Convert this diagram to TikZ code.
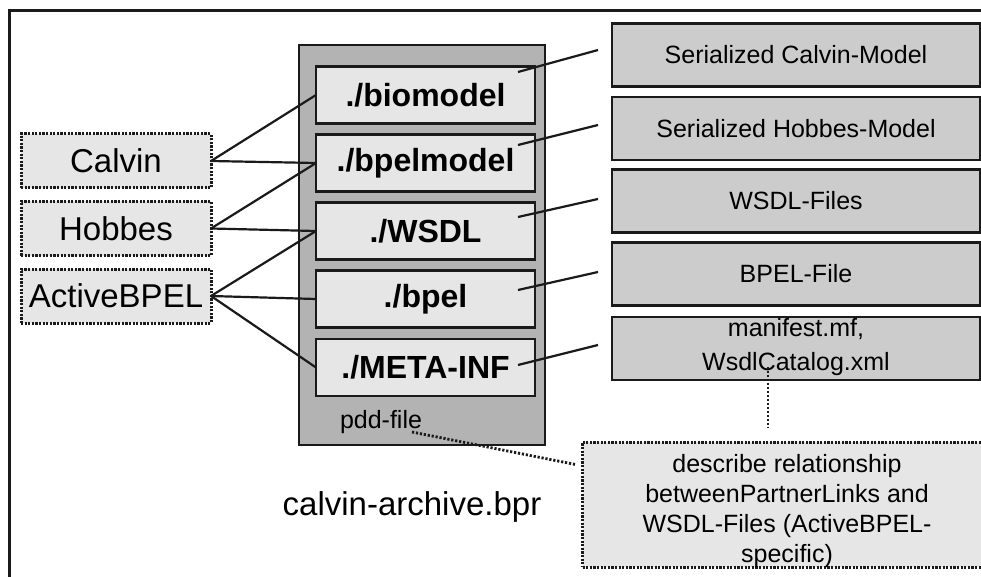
\documentclass[tikz,border=0pt]{standalone}
\usepackage{fontspec}
\setmainfont{Liberation Sans}
\usetikzlibrary{calc}
\definecolor{lightfill}{HTML}{E6E6E6}
\definecolor{midfill}{HTML}{CCCCCC}
\definecolor{darkfill}{HTML}{B3B3B3}
\definecolor{edgecol}{HTML}{1A1A1A}
\begin{document}
\begin{tikzpicture}[x=1pt,y=-1pt,
  every node/.style={inner sep=0pt, outer sep=0pt},
  toolbox/.style={draw=edgecol, fill=lightfill, line width=3pt, dash pattern=on 2.2pt off 1.4pt,
    minimum width=190pt, minimum height=54pt, font=\fontsize{33}{38}\selectfont},
  dirbox/.style={draw=edgecol, fill=lightfill, line width=2.4pt, minimum width=219pt, minimum height=57pt,
    font=\fontsize{32}{36}\selectfont\bfseries},
  filebox/.style={draw=edgecol, fill=midfill, line width=2.4pt, minimum width=368pt, minimum height=63pt,
    font=\fontsize{25}{29}\selectfont, align=center},
  archbox/.style={draw=edgecol, fill=darkfill, line width=2.2pt, minimum width=246pt, minimum height=400pt},
  notebox/.style={draw=edgecol, fill=lightfill, line width=3pt, dash pattern=on 2.2pt off 1.4pt,
    minimum width=403pt, minimum height=125pt},
  notetext/.style={align=center, font=\fontsize{25}{30}\selectfont},
  link/.style={draw=edgecol, line width=2.2pt},
  dotlink/.style={draw=edgecol, line width=2.8pt, dash pattern=on 2.2pt off 1.8pt}
]
\useasboundingbox (0,0) rectangle (981,577);
\fill[white] (0,0) rectangle (981,577);
% frame
\draw[edgecol, line width=3pt] (9.5,577) -- (9.5,11) -- (981,11);

% archive container
\node[archbox] (arch) at (422,245) {};
\node[dirbox] (bio)  at (425.5,95)    {./biomodel};
\node[dirbox] (bpm)  at (425.5,163)   {./bpelmodel};
\node[dirbox] (wsdl) at (425.5,231)   {./WSDL};
\node[dirbox] (bpel) at (425.5,299)   {./bpel};
\node[dirbox] (meta) at (425.5,367.5) {./META-INF};
\node[anchor=base, font=\fontsize{25}{29}\selectfont] (pdd) at (381,428) {pdd-file};
\node[anchor=base, font=\fontsize{33}{38}\selectfont] (title) at (412,515) {calvin-archive.bpr};

% tools
\node[toolbox] (calvin) at (116,161)   {Calvin};
\node[toolbox] (hobbes) at (116,228.5) {Hobbes};
\node[toolbox] (abpel)  at (116,296)   {ActiveBPEL};

% right file boxes
\node[filebox] (r1) at (796,55)    {Serialized Calvin-Model};
\node[filebox] (r2) at (796,128.5) {Serialized Hobbes-Model};
\node[filebox] (r3) at (796,201)   {WSDL-Files};
\node[filebox] (r4) at (796,274)   {BPEL-File};
\node[filebox] (r5) at (796,348.5) {};
\node[align=center, font=\fontsize{25}{34}\selectfont] (r5text) at ($(r5.center)+(0,-1)$) {manifest.mf,\\WsdlCatalog.xml};

% note
\node[notebox] (desc) at (784,504.5) {};
\node[notetext] (desctext) at ($(desc.center)+(3,7)$) {describe relationship\\betweenPartnerLinks and\\WSDL-Files (ActiveBPEL-\\specific)};

% tool connectors
\draw[link] (calvin.east) -- (bio.west);
\draw[link] (calvin.east) -- (bpm.west);
\draw[link] (hobbes.east) -- (bpm.west);
\draw[link] (hobbes.east) -- (wsdl.west);
\draw[link] (abpel.east) -- (wsdl.west);
\draw[link] (abpel.east) -- (bpel.west);
\draw[link] (abpel.east) -- (meta.west);

% directory to file connectors
\draw[link] ($(bio.east)+(-17,-23)$)   -- ($(r1.west)+(-14,-5)$);
\draw[link] ($(bpm.east)+(-17,-18)$)   -- ($(r2.west)+(-14,-3.5)$);
\draw[link] ($(wsdl.east)+(-17,-14)$)  -- ($(r3.west)+(-14,-2)$);
\draw[link] ($(bpel.east)+(-17,-9)$)   -- ($(r4.west)+(-14,-2)$);
\draw[link] ($(meta.east)+(-17,-2.5)$) -- ($(r5.west)+(-14,-3.5)$);

% dotted annotations
\draw[dotlink] ($(pdd.base east)+(-10,4)$) -- ($(desc.west)+(-7,-40)$);
\draw[dotlink] ($(r5.center)+(-28,18)$) -- ($(desc.north)+(-16,-15)$);
\end{tikzpicture}
\end{document}
